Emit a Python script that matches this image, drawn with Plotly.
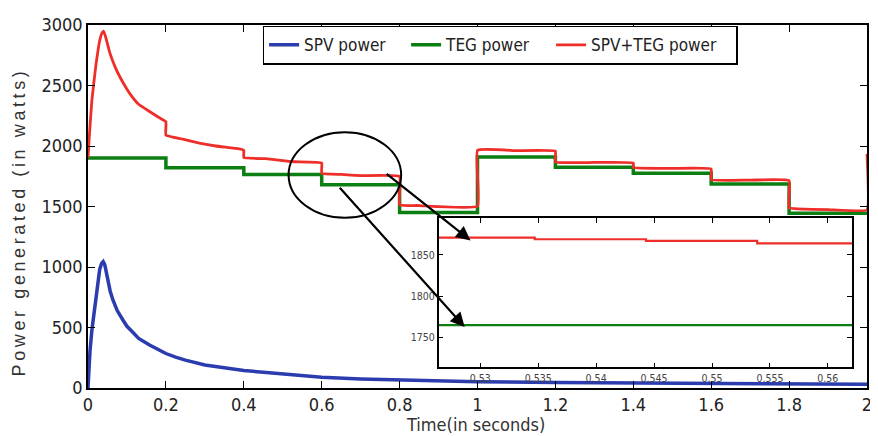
import plotly.graph_objects as go

# ---------------- data ----------------
spv_t = [0, 0.002, 0.005, 0.01, 0.015, 0.02, 0.025, 0.03, 0.035, 0.039, 0.043, 0.05,
         0.057, 0.064, 0.075, 0.09, 0.1, 0.115, 0.13, 0.158, 0.18, 0.2, 0.225, 0.25,
         0.3, 0.35, 0.4, 0.45, 0.5, 0.53, 0.6, 0.7, 0.8, 0.9, 1.0, 1.2, 1.4, 1.6, 1.8, 2.0]
spv_p = [0, 150, 300, 480, 620, 760, 880, 980, 1030, 1045, 1020, 900,
         800, 728, 640, 560, 510, 460, 410, 355, 315, 285, 255, 230,
         190, 165, 145, 130, 115, 105, 88, 75, 65, 58, 52, 46, 42, 38, 34, 30]

teg_t = [0, 0.2, 0.4, 0.6, 0.8, 1.0, 1.2, 1.4, 1.6, 1.8, 2.0]
teg_p = [1900, 1820, 1765, 1680, 1450, 1910, 1825, 1775, 1685, 1445, 1445]

sum_t = [0, 0.003, 0.01, 0.02, 0.03, 0.036, 0.04, 0.045, 0.056, 0.07, 0.082, 0.1, 0.115,
         0.13, 0.158, 0.18, 0.2, 0.2, 0.243, 0.286, 0.328, 0.388, 0.4, 0.4, 0.456,
         0.5, 0.53, 0.6, 0.6, 0.65, 0.7, 0.8, 0.8, 0.85, 1.0, 1.0, 1.1, 1.2, 1.2,
         1.3, 1.4, 1.4, 1.5, 1.6, 1.6, 1.7, 1.8, 1.8, 1.84, 1.9, 2.0, 2.0]
sum_p = [1900, 2060, 2380, 2660, 2870, 2935, 2950, 2905, 2770, 2650, 2570, 2470, 2400,
         2345, 2285, 2240, 2200, 2090, 2057, 2024, 2000, 1976, 1965, 1905, 1895,
         1880, 1870, 1860, 1775, 1765, 1755, 1748, 1515, 1508, 1502, 1965, 1962, 1958, 1868,
         1864, 1860, 1822, 1815, 1810, 1722, 1718, 1714, 1490, 1478, 1475, 1472, 1935]

# zoomed inset data
inset_t = [0.5264, 0.5347, 0.5443, 0.5539, 0.5621]
inset_sum = [1871, 1869, 1867, 1864, 1864]
inset_teg = [1765, 1765, 1765, 1765, 1765]

x_ticks = [0, 0.2, 0.4, 0.6, 0.8, 1, 1.2, 1.4, 1.6, 1.8, 2]
x_ticklabels = ["0", "0.2", "0.4", "0.6", "0.8", "1", "1.2", "1.4", "1.6", "1.8", "2"]
y_ticks = [0, 500, 1000, 1500, 2000, 2500, 3000]
inset_x_ticks = [0.53, 0.535, 0.54, 0.545, 0.55, 0.555, 0.56]
inset_x_labels = ["0.53", "0.535", "0.54", "0.545", "0.55", "0.555", "0.56"]
inset_y_ticks = [1750, 1800, 1850]

BLUE = "#2B3CAE"
GREEN = "#0B7F12"
RED = "#EE2E28"
FONT = "DejaVu Sans Condensed, Liberation Sans Narrow, Arial Narrow, Liberation Sans, Arial"

fig = go.Figure()
fig.add_trace(go.Scatter(x=spv_t, y=spv_p, mode="lines", name="SPV power", legendwidth=97,
                         line=dict(color=BLUE, width=3.5), xaxis="x", yaxis="y"))
fig.add_trace(go.Scatter(x=teg_t, y=teg_p, mode="lines", name="TEG power", legendwidth=100,
                         line=dict(color=GREEN, width=3.5, shape="hv"), xaxis="x", yaxis="y"))
fig.add_trace(go.Scatter(x=sum_t, y=sum_p, mode="lines", name="SPV+TEG power", legendwidth=140,
                         line=dict(color=RED, width=2.8, shape="spline", smoothing=0.3), xaxis="x", yaxis="y"))

fig.add_trace(go.Scatter(x=inset_t, y=inset_sum, mode="lines", showlegend=False,
                         line=dict(color=RED, width=2.2, shape="hv"), xaxis="x2", yaxis="y2"))
fig.add_trace(go.Scatter(x=inset_t, y=inset_teg, mode="lines", showlegend=False,
                         line=dict(color=GREEN, width=2.2, shape="hv"), xaxis="x2", yaxis="y2"))

axis_common = dict(showline=True, linecolor="black", linewidth=1.5, mirror="ticks",
                   ticks="inside", tickcolor="black", showgrid=False, zeroline=False)

# The page body has an 8px margin, so the figure is sized 8px smaller than the window
fig.update_layout(
    width=870, height=428,
    margin=dict(l=80, r=6, t=11, b=48),
    paper_bgcolor="white", plot_bgcolor="white",
    font=dict(family=FONT, color="#222222"),
    xaxis=dict(range=[0, 2], tickvals=x_ticks, ticktext=x_ticklabels, ticklen=7, tickwidth=1.3,
               tickfont=dict(size=18, family=FONT, color="#222222"), domain=[0, 1], **axis_common),
    yaxis=dict(range=[0, 3000], tickvals=y_ticks, ticklen=7, tickwidth=1.3,
               tickfont=dict(size=18, family=FONT, color="#222222"), domain=[0, 1], **axis_common),
    xaxis2=dict(range=[0.5264, 0.5621], tickvals=inset_x_ticks, ticktext=inset_x_labels,
                ticklen=5, tickwidth=1.2, tickfont=dict(size=10.5, family=FONT, color="#444444"),
                domain=[0.450, 0.981], anchor="y2", **axis_common),
    yaxis2=dict(range=[1714, 1895], tickvals=inset_y_ticks, ticklen=5, tickwidth=1.2,
                tickfont=dict(size=10.5, family=FONT, color="#444444"),
                domain=[0.057, 0.469], anchor="x2", **axis_common),
    legend=dict(orientation="h", x=0.529, xanchor="center", y=0.998, yanchor="top",
                bordercolor="black", borderwidth=1.5, bgcolor="white",
                font=dict(size=17, family=FONT, color="#222222"),
                itemwidth=30),
    showlegend=True,
)

# zoom ellipse
fig.add_shape(type="circle", xref="x", yref="y", x0=0.515, x1=0.804, y0=1407, y1=2114,
              line=dict(color="black", width=2))

# arrows
fig.add_annotation(x=0.982, y=1220, ax=0.763, ay=1780, xref="x", yref="y", axref="x", ayref="y",
                   text="", showarrow=True, arrowhead=2, arrowsize=1.3, arrowwidth=2.2, arrowcolor="black")
fig.add_annotation(x=0.967, y=504, ax=0.643, ay=1667, xref="x", yref="y", axref="x", ayref="y",
                   text="", showarrow=True, arrowhead=2, arrowsize=1.3, arrowwidth=2.2, arrowcolor="black")

# axis titles
ytitle = "\u2009".join(list("Power generated (in watts)"))
fig.add_annotation(text=ytitle, xref="paper", yref="paper", x=-0.089, y=0.4526,
                   xanchor="center", yanchor="middle",
                   textangle=-90, showarrow=False,
                   font=dict(size=18, family="Liberation Sans, Arial", color="#333333"))
fig.add_annotation(text="Time(in seconds)", xref="paper", yref="paper", x=0.497, y=-0.1003,
                   xanchor="center", yanchor="middle",
                   showarrow=False, font=dict(size=18, family=FONT, color="#333333"))

fig.write_html("out.html")
